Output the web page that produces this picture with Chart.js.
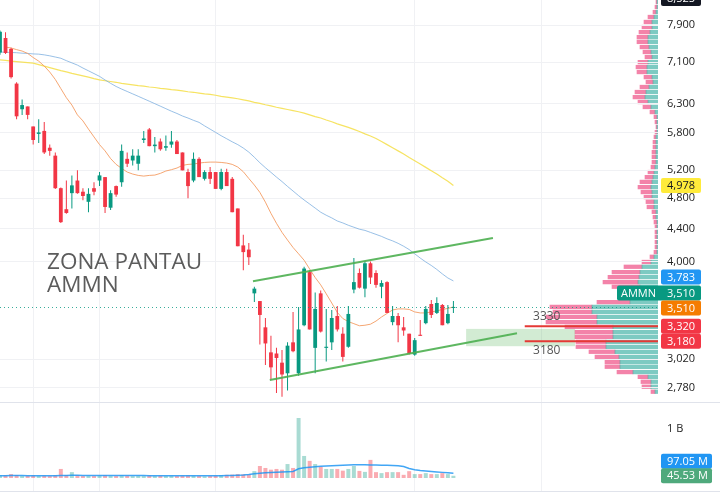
<!DOCTYPE html>
<html>
<head>
<meta charset="utf-8">
<script src="https://cdn.jsdelivr.net/npm/chart.js@4.4.0/dist/chart.umd.min.js"></script>
<style>
  html, body { margin: 0; padding: 0; background: #fff; }
  #wrap { position: relative; width: 720px; height: 494px; overflow: hidden; }
  #vp { position: absolute; left: 520px; top: 0; }
  #main { position: absolute; left: 0; top: 0; }
</style>
</head>
<body>
<div id="wrap">
  <canvas id="vp" width="138" height="402"></canvas>
  <canvas id="main" width="720" height="494"></canvas>
</div>
<script>
const GREEN = "#089981";
const RED = "#f23645";

// candles (daily), oldest first
const opens = [
  7300, 7610, 7375, 6675, 6200, 6250, 5900, 5775, 5825, 5550,
  5425, 4940, 4650, 4870, 5050, 4890, 4750, 4940, 5050, 5100,
  4670, 4970, 5025, 5375, 5350, 5300, 5675, 5850, 5575, 5650,
  5550, 5600, 5650, 5475, 5175, 5050, 5375, 5075, 5175, 5175,
  4930, 5175, 5075, 4660, 4190, 4140, 3650, 3570, 3310, 3080,
  3070, 2990, 2900, 3170, 2900, 3330, 3880, 3120, 3650, 3120,
  3170, 3420, 3250, 3130, 3690, 3870, 3700, 3980, 3870, 3720,
  3770, 3360, 3420, 3310, 3250, 3060, 3240, 3350, 3540, 3450,
  3530, 3350, 3500
];
const highs = [
  7775, 7740, 7400, 6700, 6375, 6250, 5900, 6025, 5975, 5600,
  5475, 4950, 5050, 5125, 5200, 4940, 4940, 5025, 5175, 5100,
  4910, 4980, 5600, 5475, 5525, 5525, 5825, 5875, 5725, 5700,
  5750, 5825, 5675, 5475, 5225, 5475, 5400, 5200, 5250, 5175,
  5225, 5225, 5100, 4660, 4320, 4220, 3720, 3570, 3400, 3230,
  3120, 3100, 3170, 3460, 3510, 3940, 3900, 3660, 3680, 3490,
  3480, 3520, 3310, 3520, 4040, 3920, 4000, 4000, 3900, 3790,
  3780, 3520, 3450, 3410, 3250, 3210, 3380, 3520, 3580, 3610,
  3540, 3530, 3570
];
const lows = [
  7250, 7270, 6775, 6025, 6100, 6025, 5600, 5625, 5450, 5425,
  4930, 4470, 4590, 4660, 4860, 4770, 4610, 4840, 4970, 4600,
  4640, 4820, 4960, 5250, 5275, 5200, 5625, 5575, 5475, 5500,
  5500, 5550, 5450, 5200, 4800, 5025, 5100, 5050, 5000, 4930,
  4910, 4970, 4610, 4180, 3900, 3960, 3560, 3150, 2970, 2850,
  2740, 2710, 2760, 3080, 2880, 3320, 3290, 2900, 3260, 3000,
  3100, 3270, 3000, 3120, 3650, 3700, 3610, 3750, 3710, 3600,
  3450, 3330, 3170, 3230, 3060, 3050, 3230, 3340, 3400, 3440,
  3330, 3340, 3450
];
const closes = [
  7750, 7290, 6800, 6075, 6275, 6100, 5675, 5800, 5475, 5500,
  4940, 4480, 4600, 4980, 4870, 4830, 4860, 4890, 5125, 4680,
  4870, 4850, 5500, 5300, 5425, 5425, 5700, 5575, 5600, 5525,
  5575, 5650, 5450, 5200, 4970, 5375, 5100, 5175, 5075, 4930,
  5175, 4970, 4610, 4180, 4110, 4050, 3700, 3430, 3160, 2950,
  3030, 2890, 3140, 3090, 3290, 3920, 3290, 3490, 3270, 3130,
  3400, 3290, 3040, 3440, 3770, 3710, 3980, 3820, 3740, 3760,
  3450, 3420, 3330, 3280, 3070, 3190, 3230, 3490, 3430, 3550,
  3330, 3440, 3510
];
// volume in millions of shares
const volumes = [
  50, 55, 80, 60, 40, 45, 50, 40, 45, 40,
  55, 185, 60, 120, 55, 40, 45, 40, 50, 55,
  45, 40, 55, 45, 40, 45, 40, 50, 40, 45,
  40, 45, 40, 45, 50, 45, 40, 35, 40, 45,
  60, 65, 70, 80, 75, 70, 140, 245, 205, 170,
  185, 170, 285, 205, 1225, 450, 350, 285, 225, 185,
  185, 185, 150, 185, 245, 145, 125, 370, 120, 100,
  120, 120, 120, 65, 140, 80, 80, 100, 80, 80,
  100, 80, 45.53
];
const volMa = [
  48, 48, 49, 49, 49, 48, 48, 48, 47, 47,
  47, 52, 52, 54, 54, 53, 53, 52, 52, 51,
  51, 50, 50, 50, 49, 49, 49, 48, 48, 48,
  47, 47, 47, 47, 46, 46, 46, 46, 46, 47,
  48, 50, 53, 57, 62, 70, 88, 98, 106, 114,
  120, 125, 129, 135, 190, 210, 222, 230, 238, 245,
  250, 255, 260, 265, 270, 271, 270, 268, 265, 262,
  258, 254, 250, 235, 195, 170, 155, 145, 135, 125,
  115, 105, 97.05
];
// moving averages
const maFast = [
  null, 7415, 7395, 7360, 7330, 7280, 7195, 7120, 7020, 6900,
  6755, 6580, 6410, 6275, 6100, 5995, 5855, 5725, 5600, 5500,
  5380, 5290, 5230, 5175, 5145, 5125, 5115, 5125, 5130, 5155,
  5190, 5210, 5235, 5275, 5290, 5295, 5310, 5320, 5325, 5325,
  5320, 5310, 5290, 5250, 5180, 5080, 4985, 4880, 4745, 4595,
  4465, 4350, 4255, 4165, 4090, 4015, 3915, 3820, 3740, 3645,
  3550, 3455, 3395, 3365, 3345, 3325, 3330, 3340, 3370, 3410,
  3445, 3480, 3490, 3490, 3485, 3460, 3450, 3450, 3460, 3470,
  3485, 3495, 3510
];
const maMid = [
  7310, 7305, 7300, 7295, 7285, 7280, 7270, 7265, 7250, 7230,
  7205, 7180, 7130, 7085, 7040, 6980, 6925, 6870, 6815, 6745,
  6680, 6620, 6570, 6525, 6480, 6435, 6390, 6345, 6300, 6255,
  6210, 6165, 6125, 6080, 6045, 6005, 5970, 5910, 5855, 5800,
  5745, 5695, 5645, 5600, 5545, 5480, 5400, 5315, 5240, 5170,
  5100, 5035, 4965, 4900, 4835, 4775, 4720, 4665, 4610, 4570,
  4535, 4495, 4470, 4440, 4415, 4390, 4375, 4350, 4325, 4300,
  4270, 4245, 4215, 4180, 4140, 4090, 4040, 3995, 3955, 3910,
  3860, 3815, 3783
];
const maSlow = [
  7145, 7135, 7120, 7110, 7100, 7090, 7080, 7050, 7020, 6990,
  6960, 6930, 6905, 6875, 6850, 6825, 6800, 6770, 6745, 6730,
  6715, 6700, 6680, 6665, 6650, 6635, 6625, 6610, 6600, 6585,
  6575, 6560, 6550, 6535, 6520, 6510, 6495, 6480, 6470, 6455,
  6435, 6420, 6405, 6390, 6370, 6350, 6325, 6305, 6280, 6260,
  6235, 6215, 6195, 6175, 6155, 6130, 6100, 6070, 6045, 6010,
  5980, 5945, 5915, 5885, 5850, 5815, 5775, 5740, 5700, 5650,
  5600, 5550, 5500, 5450, 5395, 5345, 5295, 5245, 5195, 5145,
  5090, 5040, 4978
];

// visible range volume profile rows
const vpPrice = [
  8440, 8320, 8200, 8085, 7970, 7855, 7740, 7630, 7525, 7415,
  7310, 7205, 7100, 7000, 6900, 6800, 6705, 6610, 6515, 6420,
  6330, 6240, 6150, 6065, 5975, 5890, 5805, 5725, 5640, 5560,
  5480, 5405, 5325, 5250, 5175, 5100, 5030, 4955, 4885, 4815,
  4750, 4680, 4615, 4545, 4480, 4420, 4355, 4295, 4230, 4170,
  4110, 4055, 3995, 3940, 3880, 3825, 3770, 3720, 3665, 3615,
  3560, 3510, 3460, 3410, 3360, 3315, 3265, 3220, 3175, 3130,
  3085, 3040, 2995, 2955, 2910, 2870, 2830, 2790, 2750
];
const vpBuy = [
  1, 1, 2, 4, 6, 6, 8, 10, 10, 9,
  7, 6, 10, 11, 11, 6, 5, 9, 12, 13,
  10, 7, 3, 1, 1, 1, 1, 2, 2, 2,
  2, 2, 2, 3, 4, 5, 6, 7, 6, 6,
  4, 4, 2, 2, 1, 1, 1, 1, 1, 1,
  1, 4, 7, 16, 18, 19, 20, 18, 22, 10,
  28, 66, 66, 61, 61, 45, 45, 45, 52, 52,
  43, 39, 38, 38, 25, 10, 7, 7, 3
];
const vpSell = [
  1, 2, 3, 6, 8, 10, 11, 11, 11, 9,
  8, 7, 10, 11, 10, 8, 7, 9, 11, 12,
  10, 8, 5, 3, 2, 1, 2, 2, 3, 3,
  4, 4, 4, 4, 6, 8, 12, 13, 11, 8,
  8, 7, 4, 3, 3, 2, 2, 2, 2, 2,
  3, 4, 9, 18, 28, 31, 35, 28, 18, 10,
  33, 42, 39, 51, 51, 48, 38, 38, 30, 30,
  26, 24, 15, 15, 16, 10, 10, 9, 4
];

// axis ticks and drawings
const priceTicks = [7900, 7100, 6300, 5800, 5200, 4800, 4400, 4000, 3020, 2780];
const gridIdx = [6, 18, 39, 75, 98];
const upperTrendX = [45.75, 89.15], upperTrendY = [3780, 4280];
const lowerTrendX = [48.8, 93.5], lowerTrendY = [2845, 3255];
const levelX = [94.9, 119];
const levels = [3320, 3180];
const zoneX = [84.3, 104], zonePrices = [3295, 3135];

const priceMin = 2670, priceMax = 8490;
const volMin = -265, volMax = 1551;
const lastIdx = closes.length - 1;

Chart.defaults.font.family = '"Open Sans", "Noto Sans", sans-serif';
Chart.defaults.font.size = 11;
Chart.defaults.color = "#222";
Chart.defaults.animation = false;

// volume profile, under the main canvas
new Chart(document.getElementById("vp"), {
  type: "bar",
  data: {
    datasets: [
      { data: vpPrice.map((p, i) => ({ x: vpBuy[i], y: p })), backgroundColor: "rgba(38,166,154,0.6)", stack: "vp", barThickness: 3.6 },
      { data: vpPrice.map((p, i) => ({ x: vpSell[i], y: p })), backgroundColor: "rgba(233,30,99,0.55)", stack: "vp", barThickness: 3.6 }
    ]
  },
  options: {
    indexAxis: "y",
    responsive: false,
    devicePixelRatio: 1,
    layout: { padding: 0, autoPadding: false },
    plugins: { legend: { display: false }, tooltip: { enabled: false } },
    scales: {
      x: { type: "linear", reverse: true, min: 0, max: 138, stacked: true, display: false },
      y: { type: "logarithmic", min: priceMin, max: priceMax, offset: false, display: false }
    }
  }
});

const isUp = i => closes[i] >= opens[i];
const candleColor = c => isUp(c.dataIndex) ? GREEN : RED;
const volColor = c => isUp(c.dataIndex) ? "rgba(8,153,129,0.35)" : "rgba(242,54,69,0.42)";

function lineSet(xs, ys, color, width, order, axis) {
  return {
    type: "line",
    data: ys.map((v, i) => ({ x: xs ? xs[i] : i, y: v })),
    borderColor: color,
    borderWidth: width,
    pointRadius: 0,
    tension: 0,
    yAxisID: axis || "y",
    order: order
  };
}

function badge(ctx, x, w, y, text, bg, fg) {
  ctx.fillStyle = bg;
  ctx.beginPath();
  ctx.roundRect(x, y - 7.5, w, 15, 2);
  ctx.fill();
  ctx.fillStyle = fg;
  ctx.fillText(text, x + 6, y + 0.5);
}

// right axis: fixed width, no label overflow padding
function fixAxis(s) {
  s.width = 62;
  s.paddingTop = 0;
  s.paddingBottom = 0;
}

const drawings = {
  id: "drawings",
  beforeDatasetsDraw(chart) {
    const { ctx, scales: { x, y } } = chart;
    const x0 = x.getPixelForValue(zoneX[0]), x1 = x.getPixelForValue(zoneX[1]);
    const y0 = y.getPixelForValue(zonePrices[0]), y1 = y.getPixelForValue(zonePrices[1]);
    ctx.save();
    ctx.fillStyle = "rgba(76,175,80,0.25)";
    ctx.fillRect(x0, y0, x1 - x0, y1 - y0);
    ctx.restore();
  },
  afterDatasetsDraw(chart) {
    const { ctx, chartArea, scales: { x, y } } = chart;
    ctx.save();
    // last price line
    const py = Math.round(y.getPixelForValue(closes[lastIdx])) + 0.5;
    ctx.strokeStyle = "rgba(8,153,129,0.8)";
    ctx.lineWidth = 1;
    ctx.setLineDash([1, 3]);
    ctx.beginPath();
    ctx.moveTo(chartArea.left, py);
    ctx.lineTo(chartArea.right, py);
    ctx.stroke();
    ctx.setLineDash([]);
    // text notes
    ctx.fillStyle = "#5c5c5c";
    ctx.font = '22.5px "Open Sans"';
    ctx.textBaseline = "middle";
    const tx = x.getPixelForValue(8.5), ty = y.getPixelForValue(3985);
    ctx.fillText("ZONA PANTAU", tx, ty);
    ctx.fillText("AMMN", tx, ty + 23);
    ctx.fillStyle = "#555";
    ctx.font = '12px "Open Sans"';
    const lx = x.getPixelForValue(96.4);
    ctx.fillText("3330", lx, y.getPixelForValue(levels[0]) - 10);
    ctx.fillText("3180", lx, y.getPixelForValue(levels[1]) + 9);
    ctx.restore();
  },
  afterDraw(chart) {
    const { ctx, scales: { y, yv } } = chart;
    ctx.save();
    ctx.strokeStyle = "#e0e3eb";
    ctx.lineWidth = 1;
    [yv.top, yv.bottom].forEach(v => {
      ctx.beginPath();
      ctx.moveTo(0, Math.round(v) + 0.5);
      ctx.lineTo(720, Math.round(v) + 0.5);
      ctx.stroke();
    });
    ctx.font = '11px "Open Sans"';
    ctx.textBaseline = "middle";
    const bx = 661;
    const fmt = v => v.toLocaleString("en-US");
    badge(ctx, bx, 40, y.getPixelForValue(8525), "8,525", "#131722", "#fff");
    badge(ctx, bx, 40, y.getPixelForValue(maSlow[lastIdx]), fmt(maSlow[lastIdx]), "#ffeb3b", "#131722");
    badge(ctx, bx, 40, y.getPixelForValue(maMid[lastIdx]) - 4, fmt(maMid[lastIdx]), "#2196f3", "#fff");
    // symbol label with last close
    const gy = y.getPixelForValue(closes[lastIdx]) - 14;
    ctx.fillStyle = GREEN;
    ctx.beginPath();
    ctx.roundRect(617, gy - 7.5, 84, 15, 2);
    ctx.fill();
    ctx.fillStyle = "#fff";
    ctx.fillText("AMMN", 621, gy + 0.5);
    ctx.fillText(fmt(closes[lastIdx]), bx + 6, gy + 0.5);
    badge(ctx, bx, 40, y.getPixelForValue(maFast[lastIdx]) + 1, fmt(maFast[lastIdx]), "#f57c00", "#fff");
    badge(ctx, bx, 40, y.getPixelForValue(levels[0]), fmt(levels[0]), RED, "#fff");
    badge(ctx, bx, 40, y.getPixelForValue(levels[1]), fmt(levels[1]), RED, "#fff");
    badge(ctx, bx, 51, yv.getPixelForValue(volMa[lastIdx]) - 12, volMa[lastIdx].toFixed(2) + " M", "#2196f3", "#fff");
    badge(ctx, bx, 51, yv.getPixelForValue(volumes[lastIdx]), volumes[lastIdx].toFixed(2) + " M", "#4fa97c", "#fff");
    ctx.restore();
  }
};

const idx = opens.map((_, i) => i);

new Chart(document.getElementById("main"), {
  type: "bar",
  data: {
    datasets: [
      lineSet(upperTrendX, upperTrendY, "rgba(76,175,80,0.9)", 2, 0),
      lineSet(lowerTrendX, lowerTrendY, "rgba(76,175,80,0.9)", 2, 0),
      lineSet(levelX, [levels[0], levels[0]], "#e53935", 2, 0),
      lineSet(levelX, [levels[1], levels[1]], "#e53935", 2, 0),
      {
        type: "bar",
        data: idx.map(i => ({ x: i, y: [opens[i], closes[i]] })),
        backgroundColor: candleColor,
        borderWidth: 0,
        grouped: false,
        maxBarThickness: 3.8,
        minBarLength: 1,
        yAxisID: "y",
        order: 2
      },
      {
        type: "bar",
        data: idx.map(i => ({ x: i, y: [lows[i], highs[i]] })),
        backgroundColor: candleColor,
        borderWidth: 0,
        grouped: false,
        maxBarThickness: 1,
        yAxisID: "y",
        order: 3
      },
      lineSet(null, maFast, "rgba(243,150,90,0.85)", 1, 5),
      lineSet(null, maMid, "rgba(110,165,220,0.7)", 1, 6),
      lineSet(null, maSlow, "rgba(245,222,70,0.85)", 1.2, 7),
      lineSet(null, volMa, "rgba(33,150,243,0.85)", 1.5, 9, "yv"),
      {
        type: "bar",
        data: idx.map(i => ({ x: i, y: volumes[i] })),
        backgroundColor: volColor,
        borderWidth: 0,
        grouped: false,
        maxBarThickness: 4,
        yAxisID: "yv",
        order: 10
      }
    ]
  },
  options: {
    responsive: false,
    devicePixelRatio: 1,
    layout: { padding: { left: 0, top: 0, right: 0, bottom: 3 }, autoPadding: false },
    plugins: { legend: { display: false }, tooltip: { enabled: false } },
    scales: {
      x: {
        type: "linear", min: 0, max: 119, offset: false,
        grid: { color: "#f0f1f4", drawTicks: false, offset: false },
        border: { display: false },
        ticks: { display: false },
        afterBuildTicks: s => { s.ticks = gridIdx.map(v => ({ value: v })); },
        afterFit: s => { s.height = 0; s.paddingLeft = 0; s.paddingRight = 0; }
      },
      y: {
        type: "logarithmic", position: "right", min: priceMin, max: priceMax,
        stack: "pane", stackWeight: 402, offset: false,
        grid: { color: "#f0f1f4", drawTicks: false },
        border: { display: false },
        ticks: { padding: 9, autoSkip: false, color: "#222", callback: v => v.toLocaleString("en-US") },
        afterBuildTicks: s => { s.ticks = priceTicks.map(v => ({ value: v })); },
        afterFit: fixAxis
      },
      yv: {
        type: "linear", position: "right", min: volMin, max: volMax,
        stack: "pane", stackWeight: 89,
        grid: { display: false, drawTicks: false },
        border: { display: false },
        ticks: { padding: 9, autoSkip: false, color: "#222", callback: v => v >= 1000 ? (v / 1000) + " B" : v + " M" },
        afterBuildTicks: s => { s.ticks = [{ value: 1000 }]; },
        afterFit: fixAxis
      }
    }
  },
  plugins: [drawings]
});
</script>
</body>
</html>
